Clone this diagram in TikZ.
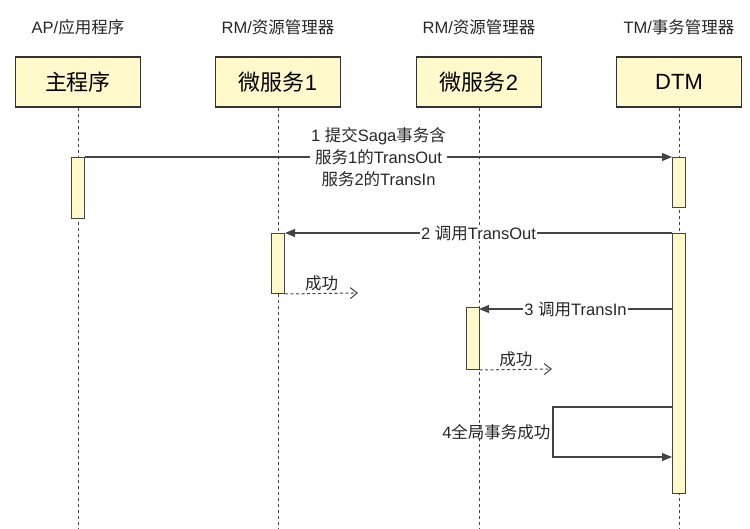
\documentclass[tikz,border=0pt]{standalone}
\usepackage{fontspec}
\setmainfont{Liberation Sans}
\newfontfamily\cjk{Noto Sans CJK SC}
\usetikzlibrary{arrows.meta, positioning}

\definecolor{lifefill}{RGB}{255,249,204}
\definecolor{lineclr}{RGB}{68,68,68}

\begin{document}
\begin{tikzpicture}[x=1pt,y=-1pt,>={Triangle[length=10pt,width=8pt]},
    title/.style={font=\fontsize{16.5}{18}\selectfont,text=black!85},
    actor/.style={draw=black!80,line width=1.2pt,fill=lifefill,minimum width=125pt,minimum height=50pt,font=\fontsize{22}{24}\selectfont},
    bar/.style={draw=lineclr,line width=1pt,fill=lifefill,minimum width=13pt,inner sep=0pt,anchor=north},
    lifeline/.style={draw=lineclr,line width=0.8pt,dash pattern=on 3pt off 3pt},
    msg/.style={->,draw=lineclr,line width=1.1pt},
    reply/.style={-{Straight Barb[length=7pt,width=11pt]},draw=lineclr,line width=1pt,dash pattern=on 3pt off 2.5pt},
    lbl/.style={font=\fontsize{16.5}{22}\selectfont,fill=white,inner sep=1pt,align=center,text=black!85}]
    \useasboundingbox (0,0) rectangle (750,529);

    % participants
    \node[title] (t1) at (78,27) {AP/{\cjk 应用程序}};
    \node[title] (t2) at (278,27) {RM/{\cjk 资源管理器}};
    \node[title] (t3) at (479,27) {RM/{\cjk 资源管理器}};
    \node[title] (t4) at (679,27) {TM/{\cjk 事务管理器}};

    \node[actor] (ap) at (78,82) {\cjk 主程序};
    \node[actor] (ms1) at (278,82) {{\cjk 微服务}1};
    \node[actor] (ms2) at (479,82) {{\cjk 微服务}2};
    \node[actor] (dtm) at (679,82) {DTM};

    \foreach \p in {ap,ms1,ms2,dtm}
        \draw[lifeline] (\p.south) -- (\p.south |- 0,529);

    % activations
    \node[bar,minimum height=61pt] (apbar) at (78,157) {};
    \node[bar,minimum height=50pt] (dtmbar1) at (679,157) {};
    \node[bar,minimum height=260pt] (dtmbar2) at (679,233) {};
    \node[bar,minimum height=60pt] (ms1bar) at (278,233) {};
    \node[bar,minimum height=62pt] (ms2bar) at (472.5,307) {};

    \coordinate (ok1) at (358,293);
    \coordinate (in3) at (479,309);
    \coordinate (ok2) at (552,369);
    \coordinate (loop1) at (553,407);
    \coordinate (loop2) at (553,457);

    % messages
    \draw[msg] (apbar.north east) -- (dtmbar1.north west)
        node[lbl,midway] {1 {\cjk 提交}Saga{\cjk 事务含}\\{\cjk 服务}1{\cjk 的}TransOut\\{\cjk 服务}2{\cjk 的}TransIn};
    \draw[msg] (dtmbar2.north west) -- (ms1bar.north east)
        node[lbl,midway] {2 {\cjk 调用}TransOut};
    \draw[reply] (ms1bar.south east) -- (ok1)
        node[lbl,midway,above=1pt,fill=none] {\cjk 成功};
    \draw[msg] (dtmbar2.west |- in3) -- (in3)
        node[lbl,midway] {3 {\cjk 调用}TransIn};
    \draw[reply] (ms2bar.south east) -- (ok2)
        node[lbl,midway,above=1pt,fill=none] {\cjk 成功};
    \draw[msg] (dtmbar2.west |- loop1) -- (loop1) -- (loop2)
        node[lbl,midway,left=1pt,fill=none] {4{\cjk 全局事务成功}} -- (dtmbar2.west |- loop2);
\end{tikzpicture}
\end{document}
